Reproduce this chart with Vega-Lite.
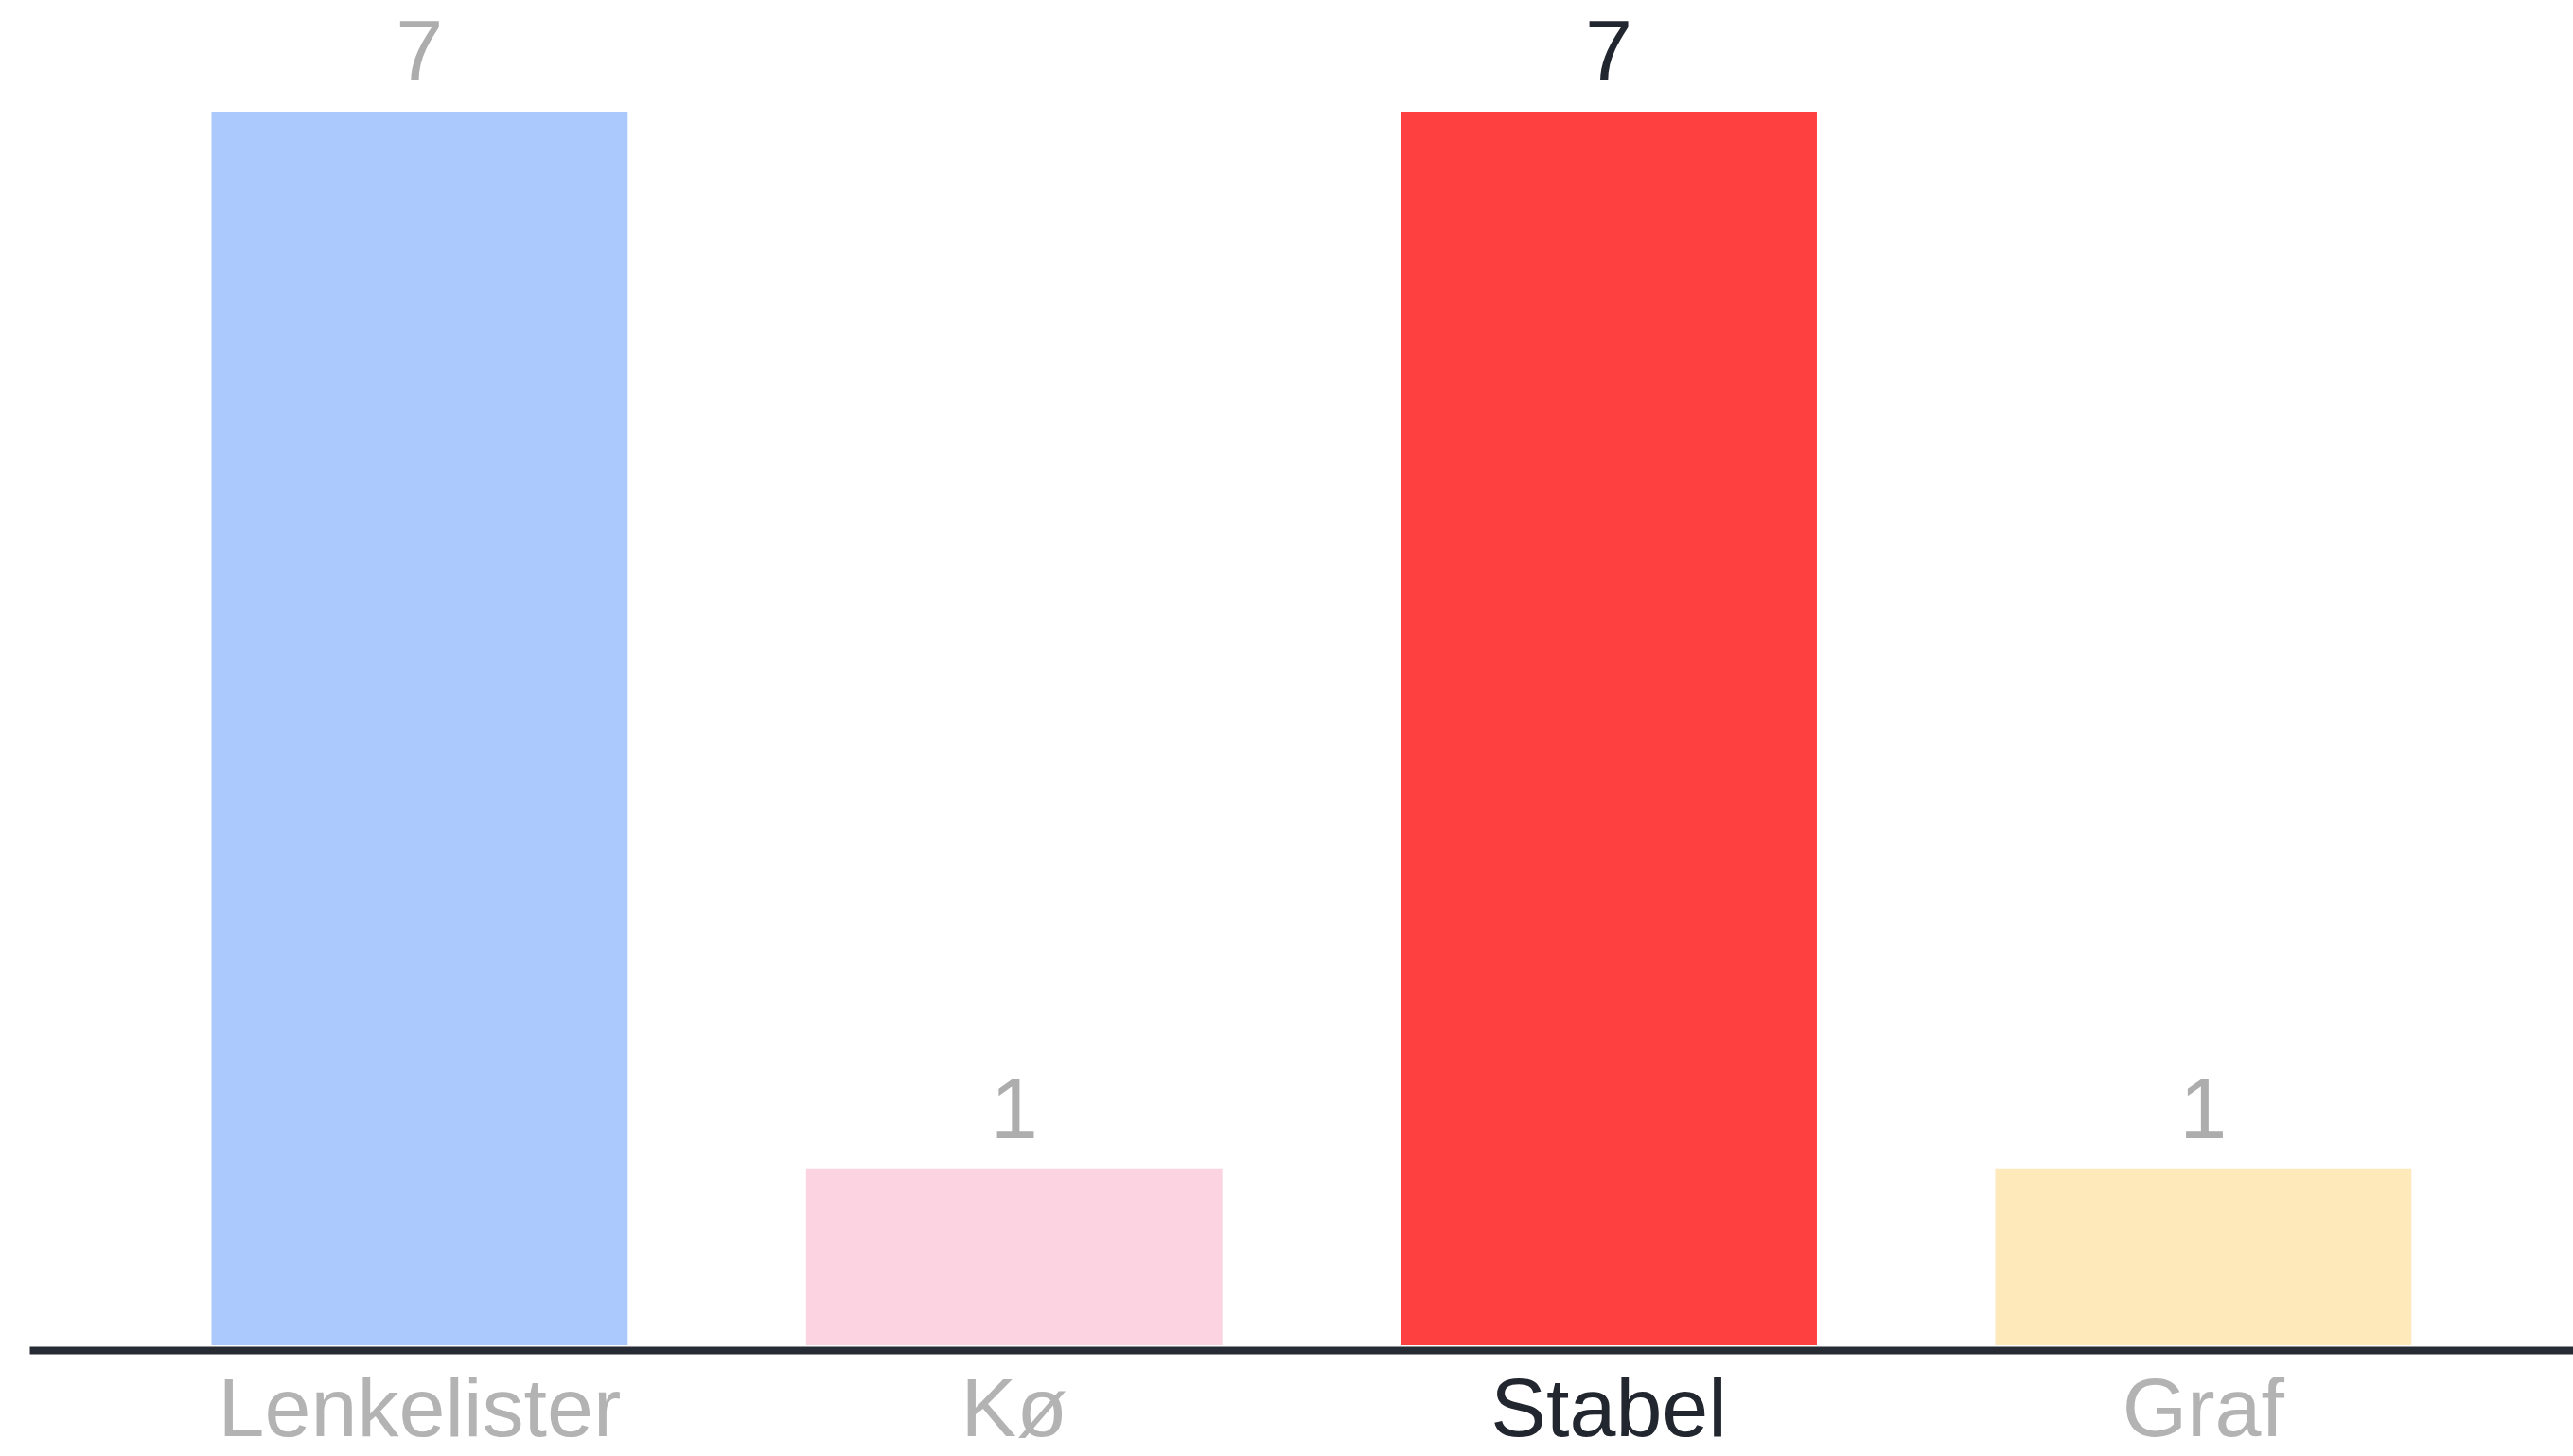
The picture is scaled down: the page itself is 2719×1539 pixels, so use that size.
{
  "$schema": "https://vega.github.io/schema/vega-lite/v6.json",
  "autosize": {"type": "none"},
  "width": 2688,
  "height": 1304,
  "padding": {"left": 31, "top": 118, "right": 0, "bottom": 117},
  "background": "#ffffff",
  "config": {"view": {"stroke": null}},
  "data": {"values": [
    {"kategori": "Lenkelister", "antall": 7},
    {"kategori": "Kø", "antall": 1},
    {"kategori": "Stabel", "antall": 7},
    {"kategori": "Graf", "antall": 1}
  ]},
  "encoding": {
    "x": {"field": "kategori", "type": "nominal", "sort": null,
      "scale": {"paddingInner": 0.3, "paddingOuter": 0.289, "align": 0.53},
      "axis": {"title": null, "labelAngle": 0, "ticks": false, "tickSize": 0, "grid": false,
        "domainColor": "#272b33", "domainWidth": 8, "offset": 5, "labelLimit": 0, "labelOverlap": false,
        "labelFont": "Liberation Sans", "labelFontSize": 88, "labelBaseline": "alphabetic", "labelPadding": 90,
        "labelColor": {"condition": {"test": "datum.value == 'Stabel'", "value": "#22262f"}, "value": "#b3b3b3"}}},
    "y": {"field": "antall", "type": "quantitative", "scale": {"domain": [0, 7], "nice": false, "zero": true}, "axis": null}
  },
  "layer": [
    {"mark": {"type": "bar"},
     "encoding": {"color": {"field": "kategori", "type": "nominal", "legend": null,
       "scale": {"domain": ["Lenkelister", "Kø", "Stabel", "Graf"], "range": ["#abc9fd", "#fcd3e1", "#ff4040", "#fde9b9"]}}}},
    {"mark": {"type": "text", "font": "Liberation Sans", "fontSize": 90, "baseline": "alphabetic", "dy": -33},
     "encoding": {"text": {"field": "antall", "type": "quantitative"},
       "color": {"condition": {"test": "datum.kategori == 'Stabel'", "value": "#22262f"}, "value": "#adadad"}}}
  ]
}
